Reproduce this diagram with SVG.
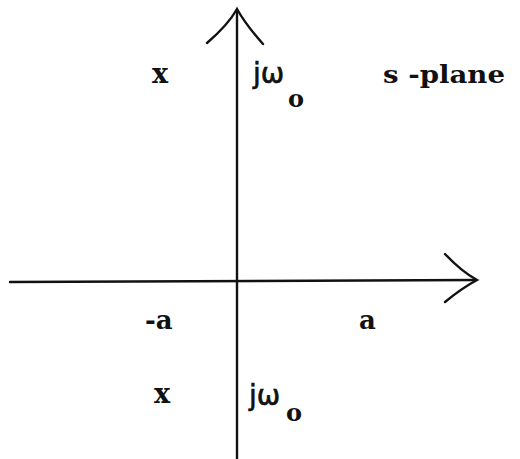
<svg xmlns="http://www.w3.org/2000/svg" width="520" height="459" viewBox="0 0 520 459">
<style>
.ax{stroke:#111;stroke-width:2.4;fill:none;stroke-linecap:round}
.t{font-family:"DejaVu Serif","Liberation Serif",serif;font-weight:bold;fill:#111}
.n{font-family:"DejaVu Sans","Liberation Sans",sans-serif;font-weight:normal;fill:#111;stroke:#111;stroke-width:0.6}
</style>
<rect width="520" height="459" fill="#fff"/>
<g id="connectors">
<path class="ax" d="M237,10 V459"/>
<path class="ax" d="M207,43 Q228,25 237,9 Q246,25 263,44"/>
<path class="ax" d="M10,282 L476,280"/>
<path class="ax" d="M445,254 Q462,272 477,280 Q462,288 445,302"/>
</g>
<g id="pole-top">
<text class="t" x="152" y="83" font-size="27">x</text>
</g>
<g id="label-jw-top">
<text class="n" x="253" y="83" font-size="28">jω</text>
<text class="t" x="288" y="107" font-size="24">o</text>
</g>
<g id="label-splane">
<text class="t" x="383" y="83" font-size="25" textLength="122" lengthAdjust="spacingAndGlyphs">s -plane</text>
</g>
<g id="label-neg-a">
<text class="t" x="145" y="329" font-size="26">-a</text>
</g>
<g id="label-a">
<text class="t" x="359" y="329" font-size="26">a</text>
</g>
<g id="pole-bottom">
<text class="t" x="154" y="403" font-size="27">x</text>
</g>
<g id="label-jw-bottom">
<text class="n" x="249" y="405" font-size="28">jω</text>
<text class="t" x="286" y="421" font-size="24">o</text>
</g>
</svg>
